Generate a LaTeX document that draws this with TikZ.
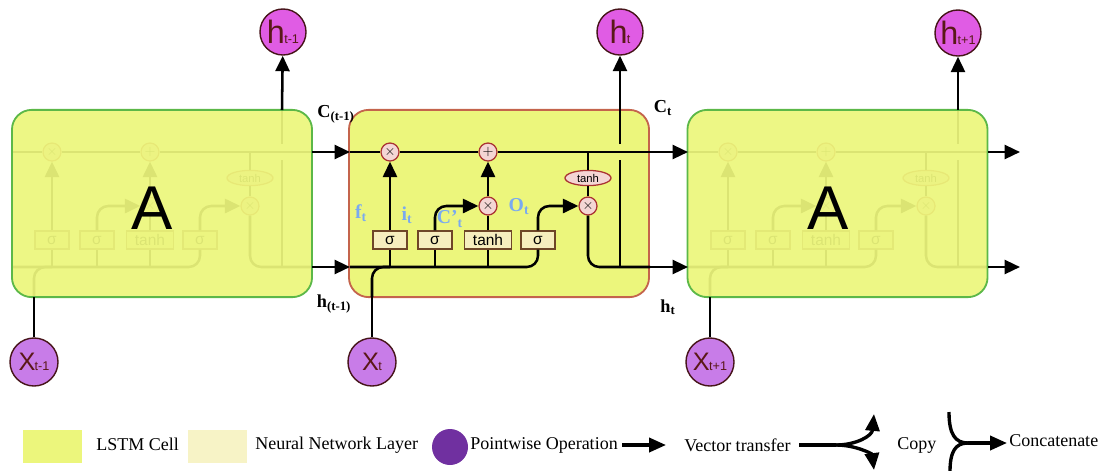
\documentclass[tikz,border=0pt]{standalone}
\usepackage{fontspec}
\setmainfont{Liberation Serif}
\newfontfamily\cellfont{Liberation Sans}
\usetikzlibrary{arrows.meta,positioning,calc,shapes.geometric}

\definecolor{cellfill}{RGB}{236,246,124}
\definecolor{cellgreen}{RGB}{92,184,72}
\definecolor{cellred}{RGB}{196,100,76}
\definecolor{layerfill}{RGB}{246,238,190}
\definecolor{layerdraw}{RGB}{110,70,40}
\definecolor{opfill}{RGB}{244,214,212}
\definecolor{opdraw}{RGB}{170,50,50}
\definecolor{hfill}{RGB}{224,92,228}
\definecolor{xfill}{RGB}{200,124,232}
\definecolor{ringdraw}{RGB}{70,20,25}
\definecolor{inktext}{RGB}{90,24,24}
\definecolor{gatelabel}{RGB}{122,170,240}
\definecolor{legendop}{RGB}{112,48,160}
\definecolor{legendlayer}{RGB}{247,243,198}

\newcommand{\statetext}[3]{{\cellfont\fontsize{#3}{#3}\selectfont #1\kern-0.5pt\fontsize{9}{9}\selectfont #2}}

\tikzset{
  op/.style={circle, draw=opdraw, fill=opfill, line width=0.9pt, minimum size=0.45cm, inner sep=0pt, font=\normalsize},
  opoval/.style={ellipse, draw=opdraw, fill=opfill, line width=0.9pt, minimum width=1.15cm, minimum height=0.38cm, inner sep=0pt, font=\cellfont\footnotesize},
  layer/.style={draw=layerdraw, fill=layerfill, line width=0.9pt, minimum width=0.85cm, minimum height=0.45cm, inner sep=0pt, font=\cellfont\fontsize{11}{11}\selectfont},
  lstm/.pic={
    % lines that run through the cell
    \coordinate (-cin) at (0,42);
    \coordinate (-cout) at (300,42);
    \coordinate (-hin) at (0,157);
    \coordinate (-hout) at (300,157);
    \coordinate (-top) at (270,0);
    \coordinate (-bot) at (22,187);
    \coordinate (-ctap) at (238,42);
    \coordinate (-jf) at (40,157);
    \coordinate (-ji) at (85,157);
    \coordinate (-jc) at (138,157);
    \node[op] (-f) at (40,42) {$\times$};
    \node[op] (-add) at (138,42) {$+$};
    \node[op] (-i) at (138,96) {$\times$};
    \node[op] (-o) at (238,96) {$\times$};
    \node[opoval] (-th) at (238,68) {tanh};
    \node[layer] (-sf) at (40,130) {σ};
    \node[layer] (-si) at (85,130) {σ};
    \node[layer, minimum width=1.18cm] (-tc) at (138,130) {tanh};
    \node[layer] (-so) at (188,130) {σ};
    \draw (-cin) -- (-f) -- (-add) -- (-cout);
    \draw (-ctap) -- (-th) -- (-o);
    \draw[rounded corners=8pt] (-o) |- (-hout);
    \draw (270,157) -- (270,50);
    \draw (270,34) -- (-top);
    \draw[rounded corners=8pt] (-hin) -| (-so);
    \draw (-jf) -- (-sf);
    \draw (-ji) -- (-si);
    \draw (-jc) -- (-tc);
    \draw[rounded corners=8pt] (-bot) |- (-jf);
    \draw[->] (-sf) -- (-f);
    \draw[->, rounded corners=8pt] (-si) |- (-i);
    \draw (-tc) -- (-i);
    \draw[->] (-i) -- (-add);
    \draw[->, rounded corners=8pt] (-so) |- (-o);
  }
}

\begin{document}
\begin{tikzpicture}[
  x=0.025cm, y=-0.025cm,
  >={Triangle[length=11pt,width=10pt]},
  line width=1.8pt,
  cell/.style={draw, line width=1.3pt, rounded corners=14pt, fill=cellfill, minimum width=7.5cm, minimum height=4.68cm, inner sep=0pt},
  bigA/.style={font=\cellfont\fontsize{44}{44}\selectfont},
  hstate/.style={circle, draw=ringdraw, line width=1pt, fill=hfill, minimum size=1.15cm, inner sep=0pt, text=inktext},
  xstate/.style={circle, draw=ringdraw, line width=1pt, fill=xfill, minimum size=1.2cm, inner sep=0pt, text=inktext},
  wire/.style={font=\bfseries\fontsize{13}{13}\selectfont},
  gate/.style={font=\bfseries\fontsize{14}{14}\selectfont, text=gatelabel},
  legtext/.style={anchor=west, font=\fontsize{12.8}{12.8}\selectfont, inner sep=0pt},
  swatch/.style={minimum width=1.475cm, minimum height=0.825cm, inner sep=0pt},
  legline/.style={line width=2.4pt, >={Triangle[length=12pt,width=10pt]}}
]
\useasboundingbox (0,0) rectangle (1120,470);

% three cells: the outer two are faded
\pic (pL) at (12,110) {lstm};
\node[cell, draw=cellgreen, fill opacity=0.93] (cellL) at (162,203.5) {};
\node[bigA] (aL) at (152,208) {A};

\node[cell, draw=cellred] (cellM) at (499,203.5) {};
\pic (pM) at (350,110) {lstm};

\pic (pR) at (688,110) {lstm};
\node[cell, draw=cellgreen, fill opacity=0.93] (cellR) at (837.5,203.5) {};
\node[bigA] (aR) at (828,208) {A};

\draw[->] (pL-cout) -- (pM-cin);
\draw[->] (pL-hout) -- (pM-hin);
\draw[->] (pM-cout) -- (pR-cin);
\draw[->] (pM-hout) -- (pR-hin);
\coordinate (cend) at (1020,152);
\coordinate (hend) at (1020,267);
\draw[->] (pR-cout) -- (cend);
\draw[->] (pR-hout) -- (hend);

% outputs and inputs
\node[hstate] (hprev) at (283,32) {\statetext{h}{t-1}{23}};
\node[hstate] (hcur) at (620,32) {\statetext{h}{t}{23}};
\node[hstate] (hnext) at (958,33) {\statetext{h}{t+1}{23}};
\draw[->] (pL-top) -- (hprev);
\draw[->] (pM-top) -- (hcur);
\draw[->] (pR-top) -- (hnext);

\node[xstate] (xprev) at (34,362) {\statetext{X}{t-1}{18}};
\node[xstate] (xcur) at (372,362) {\statetext{X}{t}{18}};
\node[xstate] (xnext) at (710,362) {\statetext{X}{t+1}{18}};
\draw (xprev) -- (pL-bot);
\draw (xcur) -- (pM-bot);
\draw (xnext) -- (pR-bot);

% wire labels
\node[wire] (cprevlbl) at (336,114) {C\textsubscript{(t-1)}};
\node[wire] (ccurlbl) at (663,108) {C\textsubscript{t}};
\node[wire] (hprevlbl) at (334,304) {h\textsubscript{(t-1)}};
\node[wire] (hcurlbl) at (668,307) {h\textsubscript{t}};
\node[gate] (flbl) at (361,213) {f\textsubscript{t}};
\node[gate] (ilbl) at (407,215) {i\textsubscript{t}};
\node[gate] (clbl) at (450,219) {C'\textsubscript{t}};
\node[gate] (olbl) at (519,207) {O\textsubscript{t}};

% legend
\node[swatch, fill=cellfill] (lgcell) at (52.5,446.5) {};
\node[legtext] (lgcelltxt) at (95,444) {LSTM Cell};
\node[swatch, fill=legendlayer] (lglayer) at (217.5,446.5) {};
\node[legtext] (lglayertxt) at (254,445) {Neural Network Layer};
\node[circle, fill=legendop, minimum size=0.9cm, inner sep=0pt] (lgop) at (450,447) {};
\node[legtext] (lgoptxt) at (469,445) {Pointwise Operation};
\coordinate (lgva) at (622,445);
\coordinate (lgvb) at (666,445);
\draw[legline, ->] (lgva) -- (lgvb);
\node[legtext] (lgvtxt) at (683,445) {Vector transfer};
\coordinate (lgcpa) at (799,445);
\coordinate (lgcpm) at (836,445);
\coordinate (lgcpu) at (874,414);
\coordinate (lgcpd) at (874,470);
\draw[legline] (lgcpa) -- (lgcpm);
\draw[legline, ->] (lgcpm) .. controls (856,445) and (872,436) .. (lgcpu);
\draw[legline, ->] (lgcpm) .. controls (856,445) and (872,454) .. (lgcpd);
\node[legtext] (lgcptxt) at (896,445) {Copy};
\coordinate (lgcnu) at (949,412);
\coordinate (lgcnd) at (950,472);
\coordinate (lgcnm) at (968,443);
\coordinate (lgcnb) at (1007,443);
\draw[legline] (lgcnu) .. controls (949,434) and (955,443) .. (lgcnm);
\draw[legline] (lgcnd) .. controls (950,452) and (955,443) .. (lgcnm);
\draw[legline, ->] (lgcnm) -- (lgcnb);
\node[legtext] (lgcntxt) at (1008,441) {Concatenate};
\end{tikzpicture}
\end{document}
